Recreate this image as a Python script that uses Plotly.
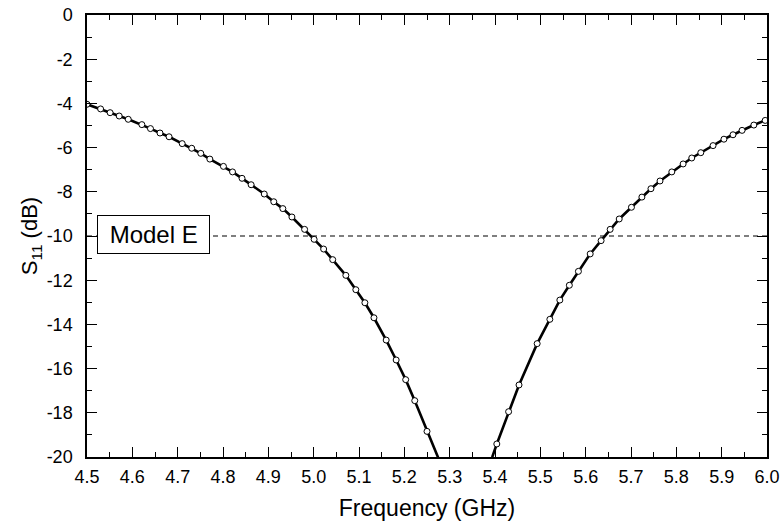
import plotly.graph_objects as go

# Marker (sample) points
freq = [4.500, 4.530, 4.551, 4.571, 4.591, 4.621, 4.640, 4.661, 4.681, 4.710,
        4.731, 4.751, 4.771, 4.801, 4.821, 4.842, 4.862, 4.891, 4.912, 4.932,
        4.952, 4.980, 5.001, 5.022, 5.042, 5.071, 5.093, 5.113, 5.133, 5.160,
        5.182, 5.203, 5.223, 5.250,
        5.404, 5.430, 5.453, 5.493, 5.521, 5.543, 5.564, 5.584, 5.610, 5.634,
        5.654, 5.674, 5.701, 5.724, 5.744, 5.764, 5.790, 5.815, 5.834, 5.854,
        5.881, 5.905, 5.925, 5.945, 5.971, 5.996]
s11 = [-4.04, -4.25, -4.42, -4.57, -4.72, -4.96, -5.14, -5.34, -5.51, -5.82,
       -6.03, -6.26, -6.52, -6.85, -7.10, -7.39, -7.68, -8.10, -8.45, -8.76,
       -9.14, -9.70, -10.15, -10.59, -11.07, -11.78, -12.43, -13.02, -13.70, -14.71,
       -15.61, -16.50, -17.45, -18.84,
       -19.41, -17.95, -16.74, -14.87, -13.77, -12.90, -12.23, -11.60, -10.81, -10.21,
       -9.70, -9.23, -8.70, -8.24, -7.86, -7.51, -7.10, -6.74, -6.47, -6.23,
       -5.91, -5.62, -5.42, -5.22, -4.98, -4.77]

# Solid curve (continues past the -20 dB floor)
line_freq = freq[:34] + [5.274, 5.300, 5.330, 5.360, 5.394] + freq[34:] + [6.000]
line_s11 = s11[:34] + [-20.0, -21.5, -23.0, -21.5, -20.0] + s11[34:] + [-4.76]

ref_level = [-10, -10]
ref_freq = [4.5, 6.0]

x_ticks = [4.5, 4.6, 4.7, 4.8, 4.9, 5.0, 5.1, 5.2, 5.3, 5.4, 5.5, 5.6, 5.7, 5.8, 5.9, 6.0]
x_labels = ["4.5", "4.6", "4.7", "4.8", "4.9", "5.0", "5.1", "5.2", "5.3", "5.4",
            "5.5", "5.6", "5.7", "5.8", "5.9", "6.0"]
y_ticks = [0, -2, -4, -6, -8, -10, -12, -14, -16, -18, -20]
y_labels = ["0", "-2", "-4", "-6", "-8", "-10", "-12", "-14", "-16", "-18", "-20"]

FONT = "Liberation Sans, Arial, sans-serif"

fig = go.Figure()
fig.add_trace(go.Scatter(x=ref_freq, y=ref_level, mode="lines",
                         line=dict(color="black", width=1.1, dash="5px,4px"),
                         showlegend=False, hoverinfo="skip"))
fig.add_trace(go.Scatter(x=line_freq, y=line_s11, mode="lines",
                         line=dict(color="black", width=2.6),
                         showlegend=False))
fig.add_trace(go.Scatter(x=freq, y=s11, mode="markers",
                         marker=dict(symbol="circle", size=6, color="white",
                                     line=dict(color="black", width=1)),
                         showlegend=False))

fig.add_annotation(x=4.6456, y=-9.93, xref="x", yref="y", text="&nbsp;Model E&nbsp;",
                   showarrow=False, bgcolor="white", bordercolor="black",
                   borderwidth=1, borderpad=5,
                   font=dict(family=FONT, size=24, color="black"))

axis_common = dict(showline=True, linecolor="black", linewidth=1.5, mirror="allticks",
                   ticks="inside", ticklen=10, tickwidth=1, tickcolor="black",
                   showgrid=False, zeroline=False, automargin=False,
                   tickfont=dict(family=FONT, size=18, color="black"))

fig.update_xaxes(range=[4.5, 6.0], tickvals=x_ticks, ticktext=x_labels,
                 ticklabelstandoff=3,
                 minor=dict(ticks="inside", ticklen=5, dtick=0.05, tick0=4.5, tickcolor="black"),
                 title=dict(text="Frequency (GHz)", standoff=14,
                            font=dict(family=FONT, size=23, color="black")),
                 **axis_common)
fig.update_yaxes(range=[-20, 0], tickvals=y_ticks, ticktext=y_labels,
                 ticklabelstandoff=9,
                 minor=dict(ticks="inside", ticklen=5, dtick=1, tick0=0, tickcolor="black"),
                 title=dict(text="S<sub>11</sub> (dB)", standoff=3,
                            font=dict(family=FONT, size=22, color="black")),
                 **axis_common)

fig.update_layout(width=784, height=531, margin=dict(l=87, r=17, t=15, b=74),
                  plot_bgcolor="white", paper_bgcolor="white")

fig.write_html("out.html", config={"displayModeBar": False},
               post_script="document.body.style.margin='0';")
